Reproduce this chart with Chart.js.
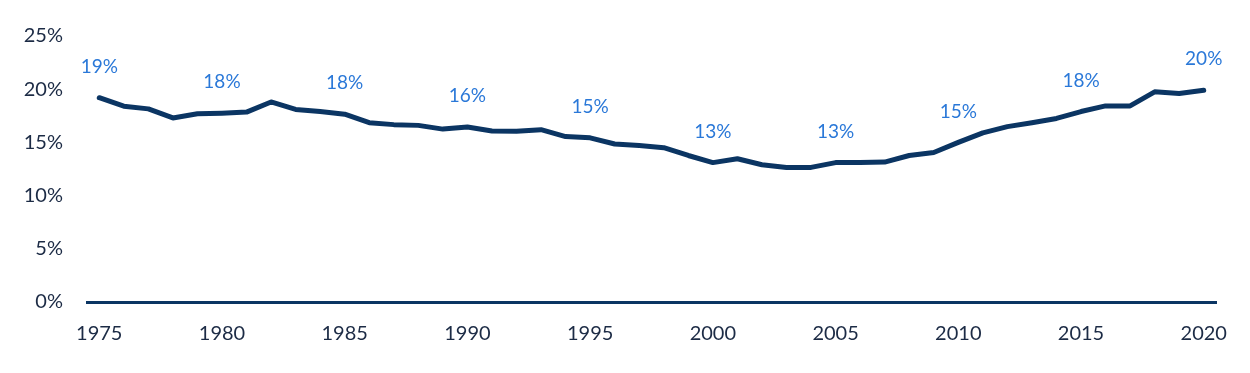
<!DOCTYPE html>
<html>
<head>
<meta charset="utf-8">
<script src="https://cdn.jsdelivr.net/npm/chart.js@4"></script>
<style>
  html, body { margin: 0; padding: 0; background: #fff; }
  #wrap { width: 1250px; height: 373px; }
</style>
</head>
<body>
<div id="wrap"><canvas id="shareChart"></canvas></div>
<script>
const years = [];
for (let y = 1975; y <= 2020; y++) years.push(String(y));

const shares = [
  19.2, 18.4, 18.15, 17.3, 17.7, 17.75, 17.85, 18.8, 18.1, 17.9,
  17.65, 16.85, 16.67, 16.6, 16.25, 16.45, 16.08, 16.05, 16.2, 15.55,
  15.43, 14.85, 14.7, 14.5, 13.77, 13.1, 13.46, 12.9, 12.65, 12.65,
  13.1, 13.1, 13.15, 13.77, 14.05, 15.0, 15.9, 16.48, 16.85, 17.25,
  17.9, 18.43, 18.43, 19.75, 19.6, 19.9
];

const labelYears = ['1975','1980','1985','1990','1995','2000','2005','2010','2015','2020'];
const labelTexts = ['19%','18%','18%','16%','15%','13%','13%','15%','18%','20%'];

const yTicks = [0, 5, 10, 15, 20, 25];

const navy = '#0b3563';
const tickColor = '#1c2b45';
const labelBlue = '#2a78d8';

// draws the 5-year value labels above the line
const valueLabels = {
  id: 'valueLabels',
  afterDatasetsDraw(chart) {
    const meta = chart.getDatasetMeta(0);
    const c = chart.ctx;
    c.save();
    c.font = '19px Lato';
    c.fillStyle = labelBlue;
    c.textAlign = 'center';
    c.textBaseline = 'middle';
    labelYears.forEach((yr, i) => {
      const idx = years.indexOf(yr);
      const pt = meta.data[idx];
      c.fillText(labelTexts[i], pt.x, pt.y - 31);
    });
    c.restore();
  }
};

new Chart(document.getElementById('shareChart'), {
  type: 'line',
  data: {
    labels: years,
    datasets: [{
      data: shares,
      borderColor: navy,
      borderWidth: 5,
      borderCapStyle: 'round',
      borderJoinStyle: 'round',
      pointRadius: 0,
      tension: 0,
      fill: false
    }]
  },
  options: {
    responsive: true,
    maintainAspectRatio: false,
    animation: false,
    layout: { padding: { top: 17, right: 34, left: 0, bottom: 0 } },
    plugins: {
      legend: { display: false },
      tooltip: { enabled: false }
    },
    scales: {
      x: {
        offset: true,
        grid: { display: false, drawTicks: false },
        border: { display: true, color: navy, width: 3 },
        ticks: {
          autoSkip: false,
          maxRotation: 0,
          padding: 20,
          color: tickColor,
          font: { family: 'Lato', size: 20 },
          callback: (v, i) => (Number(years[i]) % 5 === 0 ? years[i] : '')
        },
        afterFit: s => { s.height = 71; }
      },
      y: {
        min: 0,
        max: 25,
        afterBuildTicks: s => { s.ticks = yTicks.map(v => ({ value: v })); },
        grid: { display: false, drawTicks: false },
        border: { display: false },
        ticks: {
          padding: 24,
          color: tickColor,
          font: { family: 'Lato', size: 20 },
          callback: v => v + '%'
        },
        afterFit: s => { s.width = 87; }
      }
    }
  },
  plugins: [valueLabels]
});
</script>
</body>
</html>
